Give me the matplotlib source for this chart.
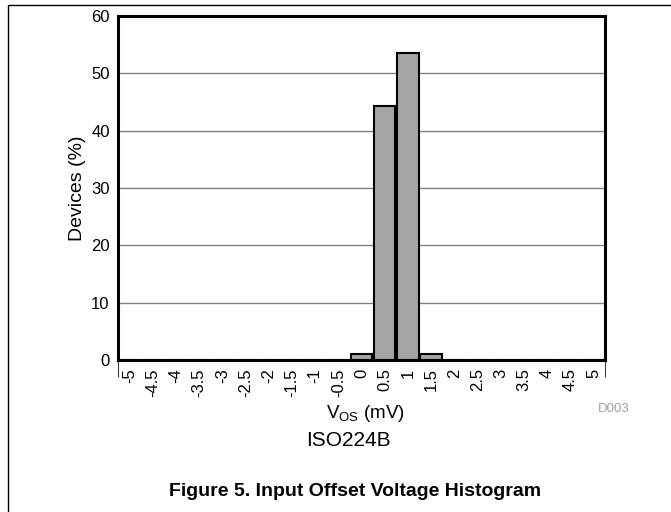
import matplotlib.pyplot as plt
from matplotlib.patches import Rectangle

# Histogram bins (mV) and share of devices (%)
bins = ['-5', '-4.5', '-4', '-3.5', '-3', '-2.5', '-2', '-1.5', '-1', '-0.5',
        '0', '0.5', '1', '1.5', '2', '2.5', '3', '3.5', '4', '4.5', '5']
devices = [0, 0, 0, 0, 0, 0, 0, 0, 0, 0,
           1.0, 44.3, 53.6, 1.0, 0, 0, 0, 0, 0, 0, 0]

plt.rcParams['font.family'] = ['Liberation Sans', 'DejaVu Sans']

fig = plt.figure(figsize=(6.71, 5.12), dpi=100)
ax = fig.add_axes([118 / 671, 1 - 360 / 512, 487 / 671, 344 / 512])

pos = list(range(len(bins)))
ax.bar(pos, devices, width=0.92, color='#a6a6a6', edgecolor='black',
       linewidth=1.5, zorder=3)

ax.set_xlim(-0.5, len(bins) - 0.5)
ax.set_ylim(0, 60)
ax.set_yticks(range(0, 61, 10))
ax.set_xticks(pos)
ax.set_xticklabels(bins, rotation=90, fontsize=12)
ax.tick_params(axis='x', length=0, pad=6)
ax.tick_params(axis='y', length=0, pad=6, labelsize=12)
# end ticks at the category boundaries
ax.set_xticks([-0.5, len(bins) - 0.5], minor=True)
ax.tick_params(axis='x', which='minor', length=12, width=0.8, color='#444444')

ax.grid(axis='y', color='#808080', linewidth=1, zorder=0)
for s in ax.spines.values():
    s.set_linewidth(2.2)
    s.set_zorder(4)

ax.set_ylabel('Devices (%)', fontsize=14)
ax.yaxis.set_label_coords((86 - 118) / 487, 0.5)

fig.text(365 / 671, 1 - 413 / 512, 'V$_{\\mathregular{OS}}$ (mV)', fontsize=13.5,
         ha='center', va='center')
fig.text(614 / 671, 1 - 409 / 512, 'D003', fontsize=9.5, color='#a0a0a0',
         ha='center', va='center')
fig.text(348 / 671, 1 - 441 / 512, 'ISO224B', fontsize=15,
         ha='center', va='center')
fig.text(355 / 671, 1 - 492 / 512, 'Figure 5. Input Offset Voltage Histogram',
         fontsize=14, fontweight='bold', ha='center', va='center')

# outer frame
fig.patches.append(Rectangle((8 / 671, -0.05), 1.0, 1 - 5 / 512 + 0.05,
                             transform=fig.transFigure, fill=False,
                             edgecolor='black', linewidth=1))

fig.savefig('out.png', dpi=100)
